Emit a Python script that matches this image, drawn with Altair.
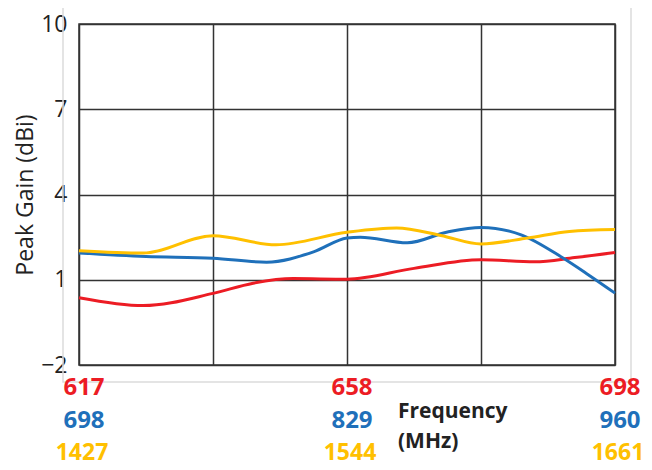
import altair as alt
import pandas as pd

# Band position (0..4 grid divisions) and peak gain (dBi) for each band
red_pos = [0, 0.48, 1, 1.3, 1.6, 2, 2.5, 3, 3.4, 3.7, 4]
red_gain = [0.37, 0.09, 0.52, 0.88, 1.04, 1.02, 1.40, 1.70, 1.63, 1.78, 1.96]

blue_pos = [0, 0.5, 1, 1.4, 1.75, 2, 2.1, 2.45, 2.75, 3.0, 3.3, 3.6, 3.8, 4]
blue_gain = [1.94, 1.82, 1.76, 1.62, 1.98, 2.47, 2.50, 2.30, 2.68, 2.84, 2.58, 1.80, 1.18, 0.53]

yellow_pos = [0, 0.48, 1, 1.47, 2, 2.37, 2.7, 3, 3.35, 3.66, 4]
yellow_gain = [2.02, 1.94, 2.55, 2.23, 2.67, 2.82, 2.56, 2.26, 2.47, 2.70, 2.77]

tick_pos = [0, 2, 4]
red_labels = ["617", "658", "698"]
blue_labels = ["698", "829", "960"]
yellow_labels = ["1427", "1544", "1661"]

y_ticks = [-2, 1, 4, 7, 10]

RED = "#ec1c24"
BLUE = "#1f70ba"
YELLOW = "#ffc000"
FONT = "Open Sans"

rows = []
for name, ps, gs in [("red", red_pos, red_gain), ("blue", blue_pos, blue_gain), ("yellow", yellow_pos, yellow_gain)]:
    for p, g in zip(ps, gs):
        rows.append({"series": name, "pos": p, "gain": g})
df = pd.DataFrame(rows)

xscale = alt.Scale(domain=[0, 4], nice=False, zero=False)
yscale = alt.Scale(domain=[-2, 10], nice=False, zero=False)

# outer light frame (decoration)
frame = alt.Chart(pd.DataFrame({"a": [0]})).mark_rect(
    fill=None, stroke="#dcdcdc", strokeWidth=1.5
).encode(x=alt.value(-16), x2=alt.value(552), y=alt.value(-17), y2=alt.value(358))

lines = alt.Chart(df).mark_line(strokeWidth=3, interpolate="monotone").encode(
    x=alt.X("pos:Q", scale=xscale,
            axis=alt.Axis(values=[0, 1, 2, 3, 4], labels=False, ticks=False, domain=False,
                          grid=True, gridColor="#333333", gridWidth=1.5, title=None)),
    y=alt.Y("gain:Q", scale=yscale,
            axis=alt.Axis(values=y_ticks, ticks=False, domain=False, grid=True,
                          gridColor="#333333", gridWidth=1.5,
                          labelFont=FONT, labelFontSize=23, labelColor="#222222",
                          labelPadding=12, title="Peak Gain (dBi)", titleFont=FONT,
                          titleFontSize=23, titleFontWeight="normal", titleColor="#222222",
                          titlePadding=3)),
    color=alt.Color("series:N", scale=alt.Scale(domain=["red", "blue", "yellow"],
                                                range=[RED, BLUE, YELLOW]), legend=None),
    detail="series:N",
)

def label_layer(labels, color, ypix, size, dx):
    d = pd.DataFrame({"pos": tick_pos, "label": labels})
    return alt.Chart(d).mark_text(
        font=FONT, fontSize=size, fontWeight="bold", color=color, dx=dx, baseline="middle"
    ).encode(x=alt.X("pos:Q", scale=xscale), y=alt.value(ypix), text="label:N")

freq = alt.Chart(pd.DataFrame({"t": ["Frequency\n(MHz)"]})).mark_text(
    font=FONT, fontSize=21, fontWeight="bold", color="#222222", align="left",
    baseline="alphabetic", lineBreak="\n", lineHeight=30
).encode(x=alt.value(319), y=alt.value(394), text="t:N")

chart = alt.layer(
    frame, lines,
    label_layer(red_labels, RED, 364, 24, 5),
    label_layer(blue_labels, BLUE, 397, 24, 5),
    label_layer(yellow_labels, YELLOW, 429, 23, 3),
    freq,
).properties(
    width=536, height=341,
    autosize=alt.AutoSizeParams(type="none"),
    padding={"left": 71, "top": 16, "right": 29, "bottom": 103},
).configure_view(stroke="#333333", strokeWidth=1.5)

chart.save("out.html", embed_options={"renderer": "svg", "actions": False})
